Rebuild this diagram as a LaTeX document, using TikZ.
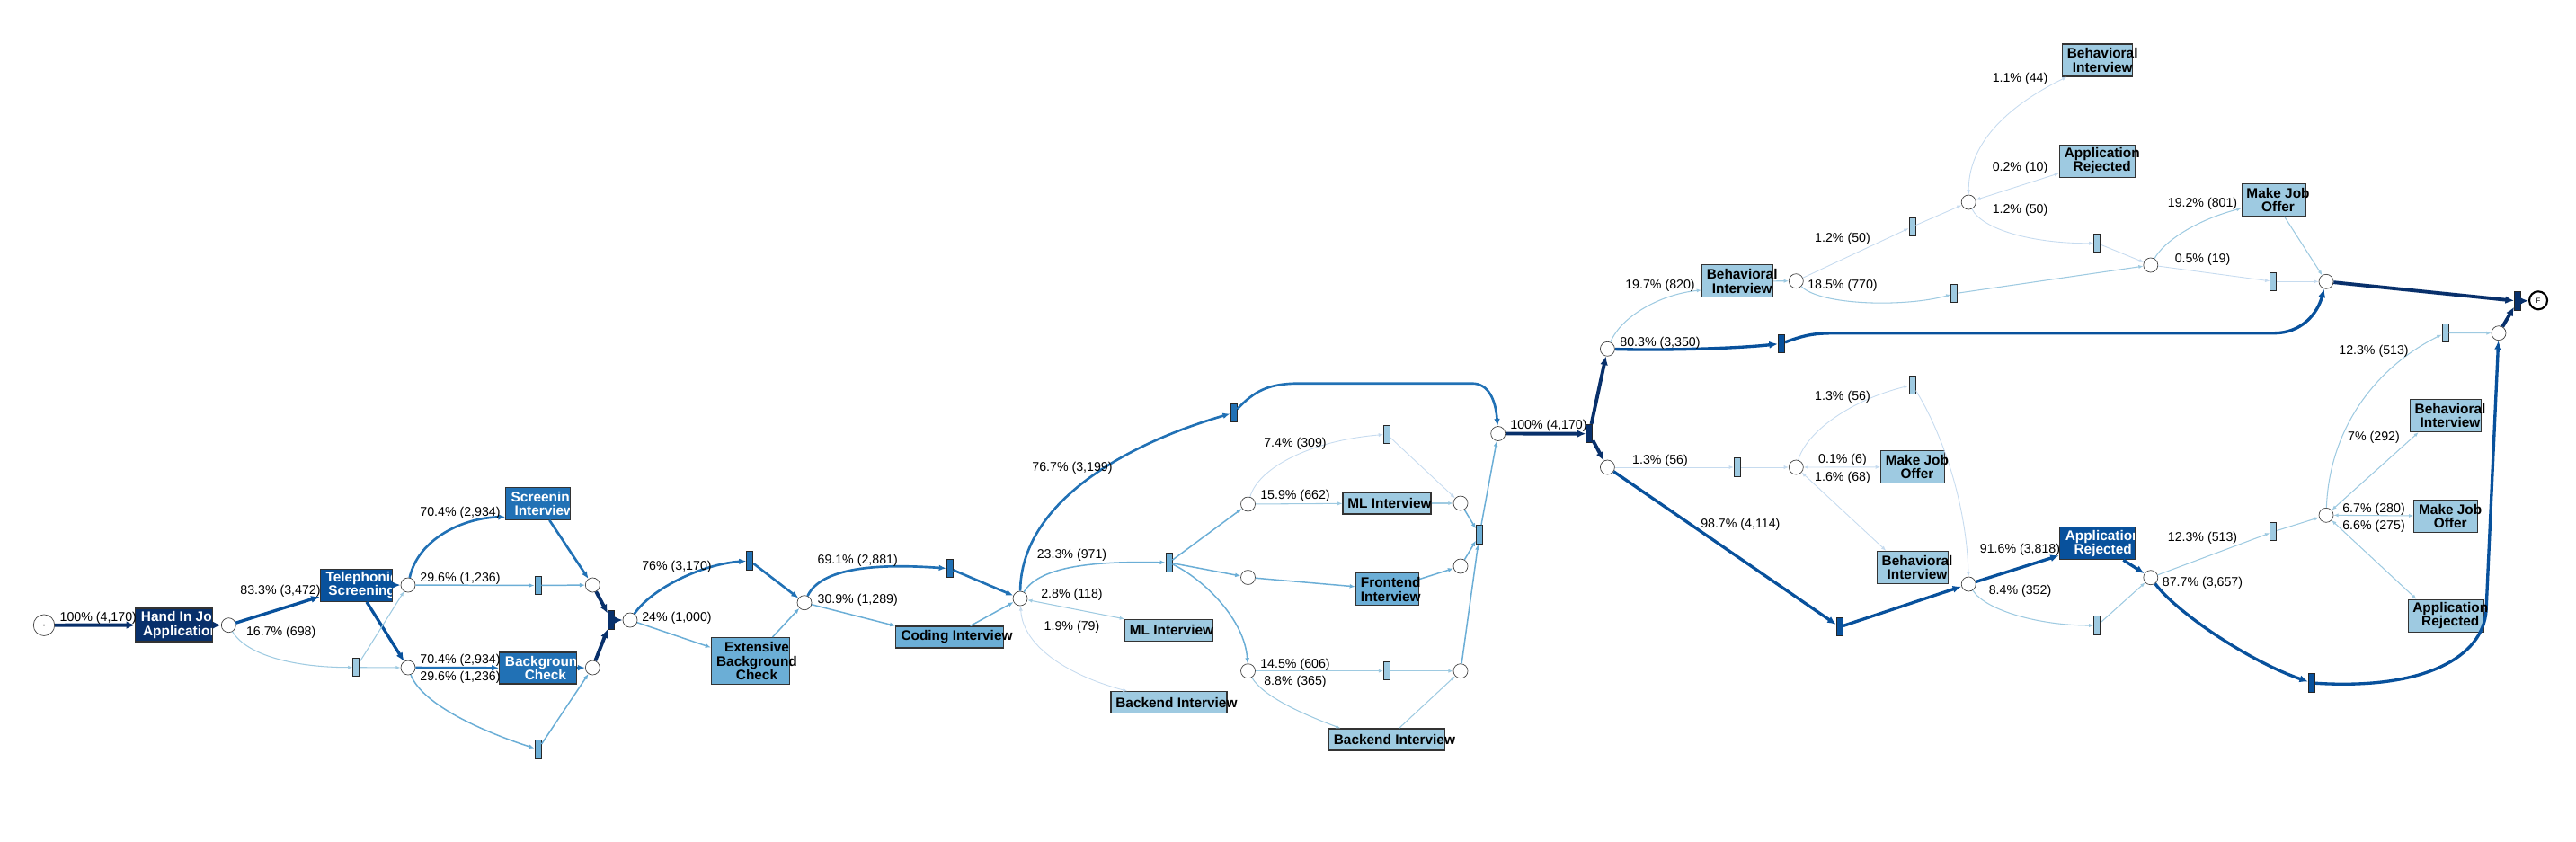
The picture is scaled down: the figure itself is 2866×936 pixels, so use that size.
\documentclass[tikz,border=0pt]{standalone}
\usepackage{fontspec}
\setmainfont{Liberation Sans}
\usetikzlibrary{arrows.meta}
\definecolor{c0}{HTML}{08306B}
\definecolor{c1}{HTML}{08519C}
\definecolor{c2}{HTML}{2171B5}
\definecolor{c4}{HTML}{6BAED6}
\definecolor{c5}{HTML}{9ECAE1}
\definecolor{c6}{HTML}{C6DBEF}
\definecolor{pl}{HTML}{444444}
\newcommand\labfont{\fontsize{8.08pt}{9.7pt}\selectfont}
\newcommand\boxfont{\bfseries\fontsize{8.76pt}{8.7pt}\selectfont}
\tikzset{
 place/.style={circle, draw=pl, line width=0.4pt, fill=white, minimum size=3.2mm, inner sep=0pt},
 trans/.style={rectangle, draw=black!85, line width=0.55pt, minimum width=1.4mm, minimum height=4.1mm, inner sep=0pt},
 vbox/.style 2 args={rectangle, draw=black!80, line width=0.6pt, inner sep=0pt, minimum width=#1*0.2mm, minimum height=#2*0.2mm},
 btext/.style={font=\boxfont, align=center, inner sep=0pt, anchor=west},
 lab/.style={font=\labfont, inner sep=0pt},
 e0/.style={draw=c0, line width=2.2pt, -{Latex[length=5.5pt,width=5pt]}},
 e1/.style={draw=c1, line width=1.9pt, -{Latex[length=5.5pt,width=4.6pt]}},
 e2/.style={draw=c2, line width=1.5pt, -{Latex[length=4.6pt,width=3.8pt]}},
 e4/.style={draw=c4, line width=0.85pt, -{Latex[length=3.5pt,width=2.8pt]}},
 e5/.style={draw=c5, line width=0.6pt, -{Latex[length=3pt,width=2.4pt]}},
 e6/.style={draw=c6, line width=0.5pt, -{Latex[length=3pt,width=2.4pt]}},
 e5d/.style={draw=c5, line width=0.6pt, {Latex[length=3pt,width=2.4pt]}-{Latex[length=3pt,width=2.4pt]}},
 e6d/.style={draw=c6, line width=0.5pt, {Latex[length=3pt,width=2.4pt]}-{Latex[length=3pt,width=2.4pt]}},
}
\begin{document}
\begin{tikzpicture}[x=0.2mm, y=-0.2mm]
\useasboundingbox (0,0) rectangle (2866,936);
% ---------- places ----------
\node[place, minimum size=4.7mm] (start) at (49,695.7) {};
\fill (start.center) circle (0.2mm);
\node[place] (p1) at (254.3,695.7) {};
\node[place] (p2) at (454,651) {};
\node[place] (p3) at (454,743) {};
\node[place] (p4) at (659.3,651) {};
\node[place] (p5) at (659.3,743) {};
\node[place] (p6) at (701,690) {};
\node[place] (p7) at (895,670.7) {};
\node[place] (p8) at (1135,666) {};
\node[place] (p9) at (1388.5,561) {};
\node[place] (p10) at (1388.5,642.5) {};
\node[place] (p11) at (1388.5,746.7) {};
\node[place] (p12) at (1625,560) {};
\node[place] (p13) at (1625,630) {};
\node[place] (p14) at (1625,746.7) {};
\node[place] (pJ) at (1666.7,482.5) {};
\node[place] (p15) at (1788.4,388.3) {};
\node[place] (p16) at (1788.4,520) {};
\node[place] (p17) at (1998.3,520) {};
\node[place] (p18) at (2190.2,650) {};
\node[place] (p19) at (2392.8,642.7) {};
\node[place] (p20) at (2588,573.3) {};
\node[place] (p21) at (2780,370.7) {};
\node[place] (p22) at (1998.3,312.7) {};
\node[place] (p23) at (2190.2,225) {};
\node[place] (p24) at (2392.8,295) {};
\node[place] (pA) at (2588,313.3) {};
\node[place, minimum size=4mm, draw=black, line width=1.2pt, font=\fontsize{4.5pt}{5pt}\selectfont] (fin) at (2824,334.3) {F};
% ---------- silent transitions ----------
\node[trans, fill=c5] (t1) at (396.3,742.7) {};
\node[trans, fill=c4] (t2) at (598.5,651.5) {};
\node[trans, fill=c4] (t3) at (598.5,834) {};
\node[trans, fill=c0] (t4) at (680,690) {};
\node[trans, fill=c2] (t5) at (834.3,624) {};
\node[trans, fill=c2] (t6) at (1056.7,632.7) {};
\node[trans, fill=c2] (t7) at (1372.5,459.3) {};
\node[trans, fill=c4] (t8) at (1300.6,626) {};
\node[trans, fill=c5] (t9) at (1543,483.3) {};
\node[trans, fill=c4] (t10) at (1646,595) {};
\node[trans, fill=c5] (t11) at (1543,746.7) {};
\node[trans, fill=c0] (t12) at (1768.2,482.7) {};
\node[trans, fill=c5] (t13) at (1932.8,520) {};
\node[trans, fill=c5] (t14) at (2127.5,428.3) {};
\node[trans, fill=c1] (t15) at (2046.8,697.7) {};
\node[trans, fill=c5] (t16) at (2333.4,696) {};
\node[trans, fill=c5] (t17) at (2529.3,591.7) {};
\node[trans, fill=c1] (t18) at (2572,760) {};
\node[trans, fill=c5] (t19) at (2720.5,370.5) {};
\node[trans, fill=c5] (t20) at (2529.3,313.3) {};
\node[trans, fill=c1] (t21) at (1982,382.3) {};
\node[trans, fill=c5] (t22) at (2174.4,326.7) {};
\node[trans, fill=c5] (t23) at (2127.5,252.3) {};
\node[trans, fill=c5] (t24) at (2333.4,270.7) {};
\node[trans, fill=c0] (tend) at (2801,335) {};
% ---------- activity boxes ----------
\node[vbox={86}{37}, fill=c0, path picture={\node[btext, text=white] (hand-t) at ([xshift=1.15mm]path picture bounding box.west) {Hand In Job\\Application};}] (hand) at (193.7,695.5) {};
\node[vbox={80}{36}, fill=c1, path picture={\node[btext, text=white] (tel-t) at ([xshift=1.15mm]path picture bounding box.west) {Telephonic\\Screening};}] (tel) at (396.3,651.3) {};
\node[vbox={72}{36}, fill=c2, path picture={\node[btext, text=white] (scr-t) at ([xshift=1.05mm]path picture bounding box.west) {Screening\\Interview};}] (scr) at (598.9,560.3) {};
\node[vbox={86}{35}, fill=c2, path picture={\node[btext, text=white] (bgc-t) at ([xshift=1.15mm]path picture bounding box.west) {Background\\Check};}] (bgc) at (598.7,743.5) {};
\node[vbox={84}{36}, fill=c1, path picture={\node[btext, text=white] (arm-t) at ([xshift=1.15mm]path picture bounding box.west) {Application\\Rejected};}] (arm) at (2333.4,604.7) {};
\node[vbox={87}{52}, fill=c4] (ebc) at (835,735.5) {};
\node[vbox={120}{24}, fill=c4] (cod) at (1056.7,709) {};
\node[vbox={98}{24}, fill=c5] (ml1) at (1300.5,701.3) {};
\node[vbox={129}{24}, fill=c5] (be1) at (1300.5,781.7) {};
\node[vbox={98}{24}, fill=c5] (ml2) at (1543,560) {};
\node[vbox={70}{36}, fill=c4] (fe) at (1543.3,655.9) {};
\node[vbox={129}{24}, fill=c5] (be2) at (1543,823) {};
\node[vbox={71}{36}, fill=c5] (mjo1) at (2128,519.7) {};
\node[vbox={79}{36}, fill=c5] (bi1) at (2127.8,631.3) {};
\node[vbox={79}{36}, fill=c5] (bi2) at (1933,312.9) {};
\node[vbox={78}{36}, fill=c5] (bi3) at (2333.5,67) {};
\node[vbox={84}{36}, fill=c5] (ar3) at (2333.5,179.2) {};
\node[vbox={71}{36}, fill=c5] (mjo2) at (2529.6,222.4) {};
\node[vbox={79}{36}, fill=c5] (bi4) at (2720.8,462.5) {};
\node[vbox={71}{36}, fill=c5] (mjo3) at (2721.3,574.2) {};
\node[vbox={84}{36}, fill=c5] (ar4) at (2721,685.3) {};
% ---------- edges ----------
\draw[e0] (start) -- (hand);
\draw[e0] (hand) -- (p1);
\draw[e1] (p1) -- (tel);
\draw[e5] (p1) .. controls (275,730) and (330,742.7) .. (t1);
\draw[e1] (tel) -- (p2);
\draw[e1] (tel) -- (p3);
\draw[e5] (t1) -- (p2);
\draw[e5] (t1) -- (p3);
\draw[e2] (p2) .. controls (465,600) and (515,576) .. ([yshift=-3mm]scr.west);
\draw[e4] (p2) -- (t2);
\draw[e4] (t2) -- (p4);
\draw[e2] (scr) -- (p4);
\draw[e2] (p3) -- (bgc);
\draw[e2] (bgc) -- (p5);
\draw[e4] (p3) .. controls (470,785) and (540,815) .. (t3);
\draw[e4] (t3) -- (p5);
\draw[e0] (p4) -- (t4);
\draw[e0] (p5) -- (t4);
\draw[e0] (t4) -- (p6);
\draw[e2] (p6) .. controls (725,655) and (780,628) .. (t5);
\draw[e2] (t5) -- (p7);
\draw[e4] (p6) -- (ebc);
\draw[e4] (ebc) -- (p7);
\draw[e2] (p7) .. controls (915,628) and (990,628) .. (t6);
\draw[e2] (t6) -- (p8);
\draw[e4] (p7) -- (cod.north west);
\draw[e4] (cod) -- (p8);
\draw[e2] (p8) .. controls (1136,560) and (1250,495) .. (t7);
\draw[e2] (t7) .. controls (1395,436) and (1410,426.7) .. (1445,426.7) -- (1638,426.7) .. controls (1656,426.7) and (1664,445) .. (pJ);
\draw[e4] (p8) .. controls (1155,632) and (1210,624) .. (t8);
\draw[e4] (t8) -- (p9);
\draw[e4] (t8) -- (p10);
\draw[e4] (t8) .. controls (1340,645) and (1385,690) .. (p11);
\draw[e5d] (p8) -- (ml1.north west);
\draw[e6d] (p8) .. controls (1138,720) and (1190,752) .. ([xshift=3.8mm]be1.north west);
\draw[e6] (p9) .. controls (1400,520) and (1460,490) .. (t9);
\draw[e6] (t9) -- (p12);
\draw[e5] (p9) -- (ml2);
\draw[e5] (ml2) -- (p12);
\draw[e4] (p10) -- (fe);
\draw[e4] (fe) -- (p13);
\draw[e4] (p12) -- (t10);
\draw[e4] (p13) -- (t10);
\draw[e5] (p11) -- (t11);
\draw[e5] (t11) -- (p14);
\draw[e5] (p11) .. controls (1405,775) and (1450,795) .. ([xshift=2.7mm]be2.north west);
\draw[e5] (be2) -- (p14);
\draw[e4] (p14) -- (t10);
\draw[e4] (t10) -- (pJ);
\draw[e0] (pJ) -- (t12);
\draw[e0] (t12) -- (p15);
\draw[e0] (t12) -- (p16);
\draw[e1] (p15) .. controls (1850,390) and (1930,388) .. (t21);
\draw[e1] (t21) .. controls (2010,372) and (2020,370.7) .. (2045,370.7) -- (2530,370.7) .. controls (2560,370.7) and (2578,350) .. (pA);
\draw[e5] (p15) .. controls (1805,350) and (1850,327) .. ([yshift=-2mm]bi2.west);
\draw[e5] (bi2) -- (p22);
\draw[e5] (p22) .. controls (2025,340) and (2120,342) .. (t22);
\draw[e5] (t22) -- (p24);
\draw[e6] (p22) -- (t23);
\draw[e6] (t23) -- (p23);
\draw[e6d] (p23) .. controls (2190,150) and (2250,110) .. ([xshift=1.1mm]bi3.south west);
\draw[e6d] (p23) -- ([yshift=1mm]ar3.south west);
\draw[e6] (p23) .. controls (2205,255) and (2260,271) .. (t24);
\draw[e6] (t24) -- (p24);
\draw[e5] (p24) .. controls (2410,265) and (2450,243) .. ([yshift=-1.9mm]mjo2.west);
\draw[e5] (mjo2) -- (pA);
\draw[e6] (p24) -- (t20);
\draw[e6] (t20) -- (pA);
\draw[e0] (pA) -- (tend);
\draw[e6] (p16) -- (t13);
\draw[e6] (t13) -- (p17);
\draw[e6d] (p17) -- (mjo1);
\draw[e6d] (p17) -- ([xshift=2.1mm]bi1.north west);
\draw[e6] (p17) .. controls (2010,480) and (2060,445) .. (t14);
\draw[e6] (t14) .. controls (2160,480) and (2188,560) .. (p18);
\draw[e1] (p16) -- (t15);
\draw[e1] (t15) -- (p18);
\draw[e1] (p18) -- (arm);
\draw[e1] (arm) -- (p19);
\draw[e5] (p18) .. controls (2210,680) and (2270,696) .. (t16);
\draw[e5] (t16) -- (p19);
\draw[e5] (p19) -- (t17);
\draw[e5] (t17) -- (p20);
\draw[e1] (p19) .. controls (2420,680) and (2500,735) .. (t18);
\draw[e1] (t18) .. controls (2700,768) and (2762,730) .. (2766,680) -- (p21);
\draw[e5d] (p20) -- ([xshift=2mm]bi4.south west);
\draw[e5d] (p20) -- (mjo3);
\draw[e5d] (p20) -- ([xshift=2mm]ar4.north west);
\draw[e5] (p20) .. controls (2592,470) and (2650,405) .. (t19);
\draw[e5] (t19) -- (p21);
\draw[e0] (p21) -- (tend);
\draw[e0] (tend) -- (fin);
% ---------- box texts (dark text) ----------
\node[btext] (ebc-t) at ([xshift=1.15mm]ebc.west) {Extensive\\Background\\Check};
\node[btext] (cod-t) at ([xshift=1.2mm]cod.west) {Coding Interview};
\node[btext] (ml1-t) at ([xshift=1.1mm]ml1.west) {ML Interview};
\node[btext] (be1-t) at ([xshift=1.1mm]be1.west) {Backend Interview};
\node[btext] (ml2-t) at ([xshift=1.1mm]ml2.west) {ML Interview};
\node[btext] (fe-t) at ([xshift=1.15mm]fe.west) {Frontend\\Interview};
\node[btext] (be2-t) at ([xshift=1.1mm]be2.west) {Backend Interview};
\node[btext] (mjo1-t) at ([xshift=1.1mm]mjo1.west) {Make Job\\Offer};
\node[btext] (bi1-t) at ([xshift=1.1mm]bi1.west) {Behavioral\\Interview};
\node[btext] (bi2-t) at ([xshift=1.1mm]bi2.west) {Behavioral\\Interview};
\node[btext] (bi3-t) at ([xshift=1.1mm]bi3.west) {Behavioral\\Interview};
\node[btext] (ar3-t) at ([xshift=1.1mm]ar3.west) {Application\\Rejected};
\node[btext] (mjo2-t) at ([xshift=1.1mm]mjo2.west) {Make Job\\Offer};
\node[btext] (bi4-t) at ([xshift=1.1mm]bi4.west) {Behavioral\\Interview};
\node[btext] (mjo3-t) at ([xshift=1.1mm]mjo3.west) {Make Job\\Offer};
\node[btext] (ar4-t) at ([xshift=1.1mm]ar4.west) {Application\\Rejected};
% ---------- edge labels ----------
\node[lab] (l1) at (109.3,688.1) {100\% (4,170)};
\node[lab] (l2) at (312,657.4) {83.3\% (3,472)};
\node[lab] (l3) at (312.7,704.1) {16.7\% (698)};
\node[lab] (l4) at (512,570.7) {70.4\% (2,934)};
\node[lab] (l5) at (512,644.1) {29.6\% (1,236)};
\node[lab] (l6) at (512,734.7) {70.4\% (2,934)};
\node[lab] (l7) at (512,754.1) {29.6\% (1,236)};
\node[lab] (l8) at (753,630.7) {76\% (3,170)};
\node[lab] (l9) at (753,687.4) {24\% (1,000)};
\node[lab] (l10) at (954.2,624.1) {69.1\% (2,881)};
\node[lab] (l11) at (954.2,667.4) {30.9\% (1,289)};
\node[lab] (l12) at (1193,520.4) {76.7\% (3,199)};
\node[lab] (l13) at (1192.5,617.4) {23.3\% (971)};
\node[lab] (l14) at (1192.5,661.4) {2.8\% (118)};
\node[lab] (l15) at (1192.5,698.1) {1.9\% (79)};
\node[lab] (l16) at (1441,493.7) {7.4\% (309)};
\node[lab] (l17) at (1441,552.1) {15.9\% (662)};
\node[lab] (l18) at (1441,739.7) {14.5\% (606)};
\node[lab] (l19) at (1441,758.7) {8.8\% (365)};
\node[lab] (l20) at (1723,474.1) {100\% (4,170)};
\node[lab] (l21) at (1847,382.1) {80.3\% (3,350)};
\node[lab] (l22) at (1847,317.4) {19.7\% (820)};
\node[lab] (l23) at (2050,317.4) {18.5\% (770)};
\node[lab] (l24) at (2050,265.7) {1.2\% (50)};
\node[lab] (l25) at (2247.5,88.1) {1.1\% (44)};
\node[lab] (l26) at (2247.5,187.1) {0.2\% (10)};
\node[lab] (l27) at (2247.5,233.7) {1.2\% (50)};
\node[lab] (l28) at (2450.5,226.4) {19.2\% (801)};
\node[lab] (l29) at (2450.5,288.7) {0.5\% (19)};
\node[lab] (l30) at (1847,512.4) {1.3\% (56)};
\node[lab] (l31) at (2050,442.1) {1.3\% (56)};
\node[lab] (l32) at (2050,512.1) {0.1\% (6)};
\node[lab] (l33) at (2050,531.4) {1.6\% (68)};
\node[lab] (l34) at (1936.3,584.1) {98.7\% (4,114)};
\node[lab] (l35) at (2247.5,611.4) {91.6\% (3,818)};
\node[lab] (l36) at (2247.5,658.1) {8.4\% (352)};
\node[lab] (l37) at (2450.5,598.7) {12.3\% (513)};
\node[lab] (l38) at (2450.5,648.7) {87.7\% (3,657)};
\node[lab] (l39) at (2641,390.7) {12.3\% (513)};
\node[lab] (l40) at (2641,486.4) {7\% (292)};
\node[lab] (l41) at (2641,566.4) {6.7\% (280)};
\node[lab] (l42) at (2641,585.4) {6.6\% (275)};
\end{tikzpicture}
\end{document}
